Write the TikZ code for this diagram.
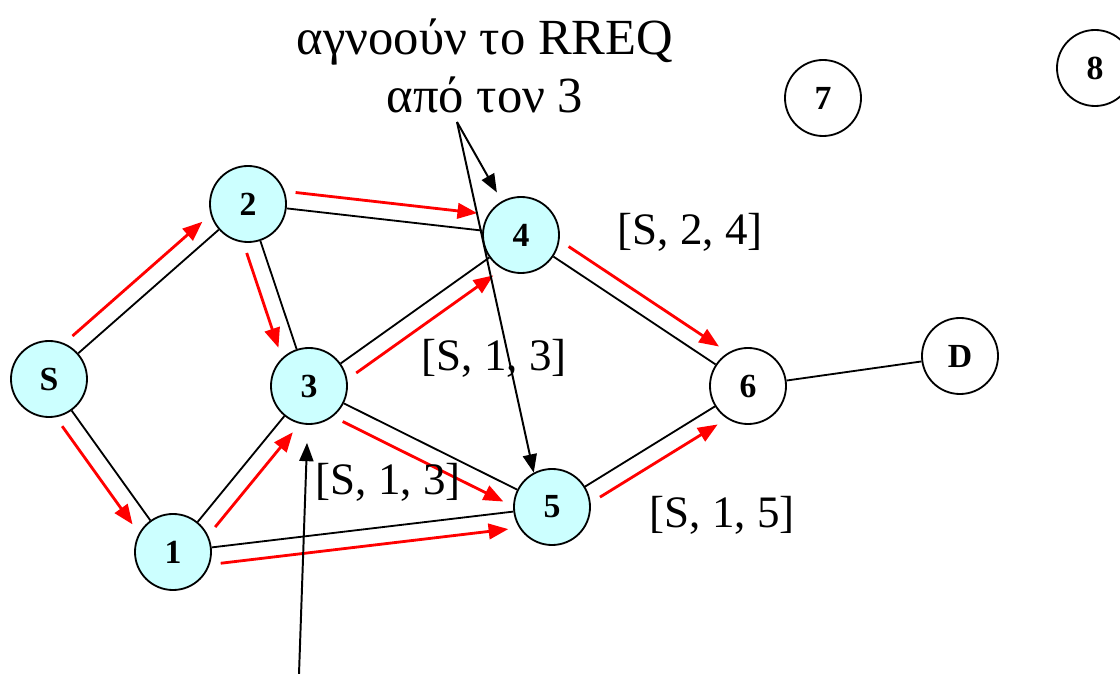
\documentclass[tikz,border=0pt]{standalone}
\usepackage{fontspec}
\setmainfont{Liberation Serif}
\usetikzlibrary{positioning}
\usetikzlibrary{calc}
\usetikzlibrary{arrows.meta}
\definecolor{reachfill}{RGB}{204,255,255}

\begin{document}
\begin{tikzpicture}[x=0.025cm,y=-0.025cm,
        host/.style={circle,draw,line width=1.3pt,minimum size=1.9cm,inner sep=0pt,
            font=\fontsize{24}{24}\selectfont\bfseries},
        reached/.style={host,fill=reachfill},
        link/.style={line width=1.3pt},
        req/.style={red,line width=2pt,-{Triangle[length=14pt,width=11pt]},
            shorten <=1.15cm,shorten >=1.15cm},
        ptr/.style={line width=1.4pt,-{Triangle[length=13pt,width=10pt]}},
        route/.style={font=\fontsize{32}{32}\selectfont}]
        \useasboundingbox (0,0) rectangle (1120,674);
        % hosts
        \node[reached] (nS) at (49,379) {S};
        \node[reached] (n1) at (173,552) {1};
        \node[reached] (n2) at (248,204) {2};
        \node[reached] (n3) at (309,386) {3};
        \node[reached] (n4) at (521,235) {4};
        \node[reached] (n5) at (552,507) {5};
        \node[host] (n6) at (748,386) {6};
        \node[host] (nD) at (960,356) {D};
        \node[host] (n7) at (823,98) {7};
        \node[host] (n8) at (1095,68) {8};
        % links
        \draw[link] (nS) -- (n2);
        \draw[link] (nS) -- (n1);
        \draw[link] (n2) -- (n4);
        \draw[link] (n2) -- (n3);
        \draw[link] (n3) -- (n4);
        \draw[link] (n3) -- (n5);
        \draw[link] (n1) -- (n3);
        \draw[link] (n1) -- (n5);
        \draw[link] (n4) -- (n6);
        \draw[link] (n5) -- (n6);
        \draw[link] (n6) -- (nD);
        % RREQ flooding
        \draw[req] ($(nS)!0.42cm!90:(n2)$) -- ($(n2)!0.42cm!270:(nS)$);
        \draw[req] ($(nS)!0.42cm!-90:(n1)$) -- ($(n1)!0.42cm!90:(nS)$);
        \draw[req] ($(n2)!0.42cm!90:(n4)$) -- ($(n4)!0.42cm!270:(n2)$);
        \draw[req] ($(n2)!0.42cm!-90:(n3)$) -- ($(n3)!0.42cm!90:(n2)$);
        \draw[req] ($(n3)!0.42cm!-90:(n4)$) -- ($(n4)!0.42cm!90:(n3)$);
        \draw[req] ($(n3)!0.42cm!-90:(n5)$) -- ($(n5)!0.42cm!90:(n3)$);
        \draw[req] ($(n1)!0.42cm!-90:(n3)$) -- ($(n3)!0.42cm!90:(n1)$);
        \draw[req] ($(n1)!0.42cm!-90:(n5)$) -- ($(n5)!0.42cm!90:(n1)$);
        \draw[req] ($(n4)!0.42cm!90:(n6)$) -- ($(n6)!0.42cm!270:(n4)$);
        \draw[req] ($(n5)!0.42cm!-90:(n6)$) -- ($(n6)!0.42cm!90:(n5)$);
        % route records
        \node[route] (r24) at (690,232) {[S, 2, 4]};
        \node[route] (r13) at (494,358) {[S, 1, 3]};
        \node[route] (r13b) at (388,482) {[S, 1, 3]};
        \node[route] (r15) at (722,515) {[S, 1, 5]};
        % note
        \node[align=center,font=\fontsize{36}{41}\selectfont] (ign) at (485,66)
            {αγνοούν το RREQ\\από τον 3};
        \coordinate (tail) at (457,122);
        \coordinate (low) at (299,674);
        \draw[ptr,shorten >=0.25cm] (tail) -- (n4);
        \draw[ptr] (tail) -- (n5.118);
        \draw[ptr,shorten >=0.45cm] (low) -- (n3);
    \end{tikzpicture}
\end{document}
